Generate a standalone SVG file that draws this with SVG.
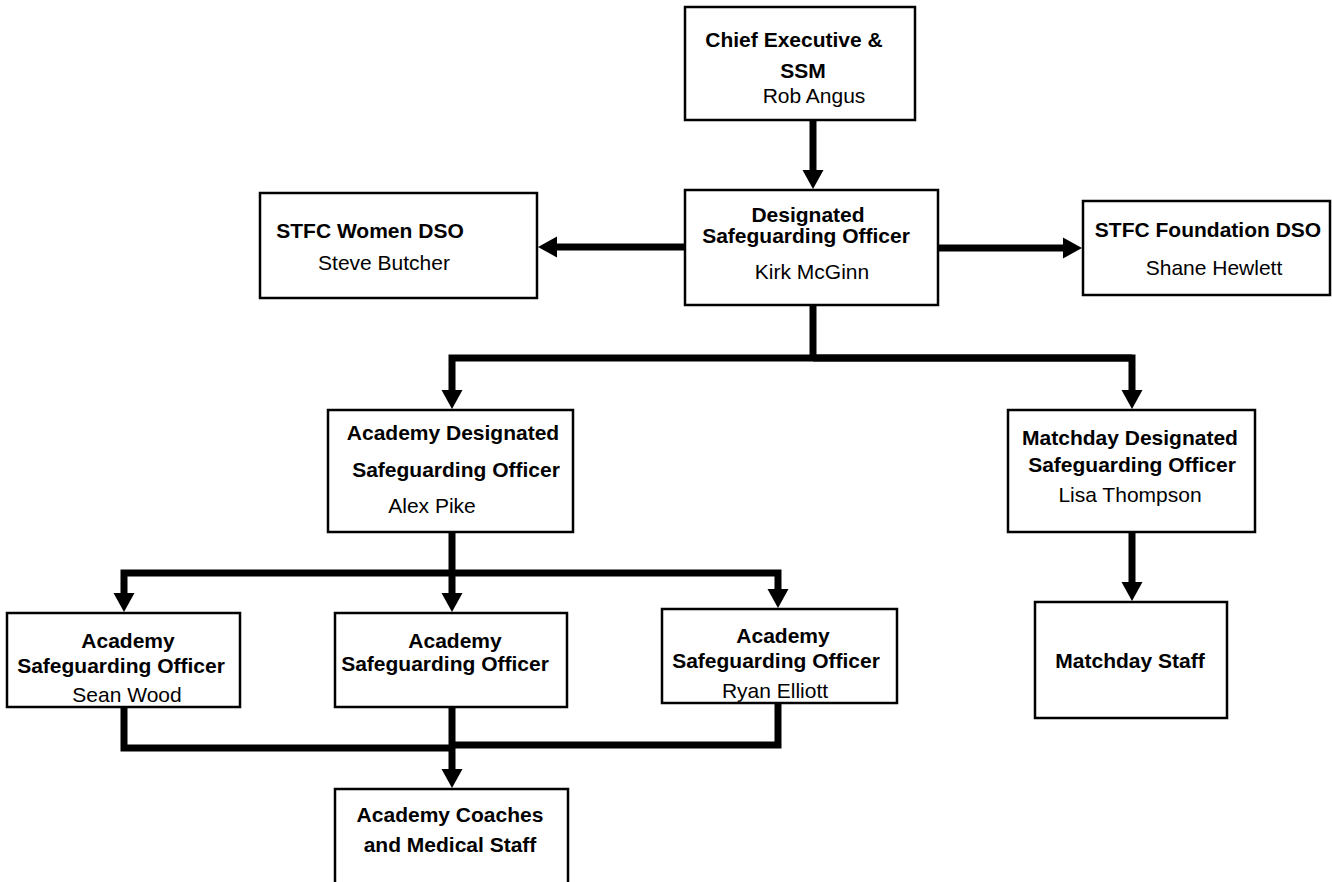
<svg xmlns="http://www.w3.org/2000/svg" width="1332" height="882" viewBox="0 0 1332 882">
<style>
.box{fill:#fff;stroke:#000;stroke-width:2.5}
.t{font-family:"Liberation Sans",Arial,sans-serif;font-size:21px;fill:#000;text-anchor:middle}
.b{font-weight:bold}
.c{fill:none;stroke:#000;stroke-width:7;stroke-linejoin:miter}
.a{marker-end:url(#ah)}
</style>
<defs>
<marker id="ah" markerUnits="userSpaceOnUse" markerWidth="19" markerHeight="22" refX="1" refY="10.5" orient="auto" viewBox="0 0 19 21">
<path d="M0,0 L19,10.5 L0,21 z" fill="#000"/>
</marker>
</defs>
<rect width="1332" height="882" fill="#fff"/>
<g id="connectors">
<path class="c a" d="M813,120 V171"/>
<path class="c a" d="M685,247 H556"/>
<path class="c a" d="M938,248 H1064"/>
<path class="c" d="M813,305 V358"/>
<path class="c a" d="M1132,358 H452 V391"/>
<path class="c a" d="M813,358 H1132 V391"/>
<path class="c" d="M452,532 V573"/>
<path class="c a" d="M452,573 H124 V594"/>
<path class="c a" d="M452,573 V594"/>
<path class="c a" d="M452,573 H778 V590"/>
<path class="c a" d="M1132,532 V583"/>
<path class="c" d="M124,707 V748 H452"/>
<path class="c" d="M778,703 V745 H452"/>
<path class="c a" d="M452,707 V770"/>
</g>
<g id="chief">
<rect class="box" x="685" y="7" width="230" height="113"/>
<text class="t b" x="794" y="47">Chief Executive &amp;</text>
<text class="t b" x="803" y="78">SSM</text>
<text class="t" x="814" y="103">Rob Angus</text>
</g>
<g id="dso">
<rect class="box" x="685" y="190" width="253" height="115"/>
<text class="t b" x="808" y="222">Designated</text>
<text class="t b" x="806" y="243">Safeguarding Officer</text>
<text class="t" x="812" y="279">Kirk McGinn</text>
</g>
<g id="women">
<rect class="box" x="260" y="193" width="277" height="105"/>
<text class="t b" x="370" y="238">STFC Women DSO</text>
<text class="t" x="384" y="270">Steve Butcher</text>
</g>
<g id="foundation">
<rect class="box" x="1083" y="201" width="247" height="94"/>
<text class="t b" x="1208" y="237">STFC Foundation DSO</text>
<text class="t" x="1214" y="275">Shane Hewlett</text>
</g>
<g id="academy-dso">
<rect class="box" x="328" y="410" width="245" height="122"/>
<text class="t b" x="453" y="440">Academy Designated</text>
<text class="t b" x="456" y="477">Safeguarding Officer</text>
<text class="t" x="432" y="513">Alex Pike</text>
</g>
<g id="matchday-dso">
<rect class="box" x="1008" y="410" width="247" height="122"/>
<text class="t b" x="1130" y="445">Matchday Designated</text>
<text class="t b" x="1132" y="472">Safeguarding Officer</text>
<text class="t" x="1130" y="502">Lisa Thompson</text>
</g>
<g id="matchday-staff">
<rect class="box" x="1035" y="602" width="192" height="116"/>
<text class="t b" x="1130" y="668">Matchday Staff</text>
</g>
<g id="aso-1">
<rect class="box" x="7" y="613" width="233" height="94"/>
<text class="t b" x="128" y="648">Academy</text>
<text class="t b" x="121" y="673">Safeguarding Officer</text>
<text class="t" x="127" y="702">Sean Wood</text>
</g>
<g id="aso-2">
<rect class="box" x="335" y="613" width="232" height="94"/>
<text class="t b" x="455" y="648">Academy</text>
<text class="t b" x="445" y="671">Safeguarding Officer</text>
</g>
<g id="aso-3">
<rect class="box" x="662" y="609" width="235" height="94"/>
<text class="t b" x="783" y="643">Academy</text>
<text class="t b" x="776" y="668">Safeguarding Officer</text>
<text class="t" x="775" y="698">Ryan Elliott</text>
</g>
<g id="coaches">
<rect class="box" x="335" y="789" width="233" height="100"/>
<text class="t b" x="450" y="822">Academy Coaches</text>
<text class="t b" x="450" y="852">and Medical Staff</text>
</g>
</svg>
